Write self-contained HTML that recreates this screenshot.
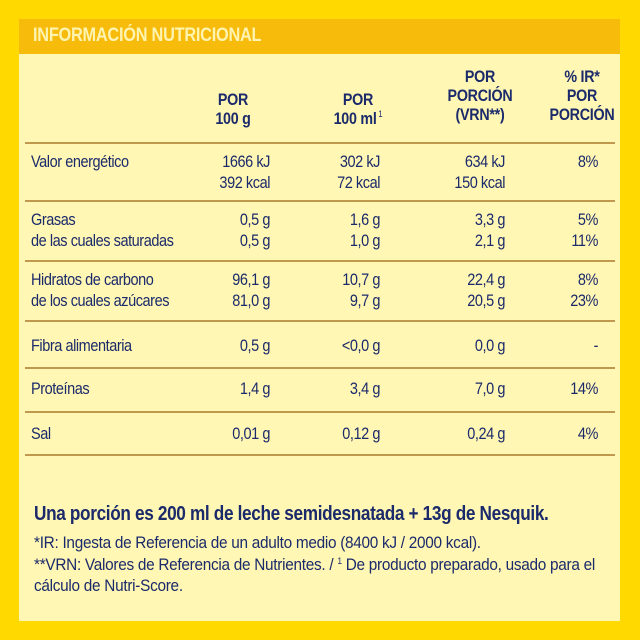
<!DOCTYPE html>
<html><head><meta charset="utf-8"><style>
body{margin:0;width:640px;height:640px;background:#ffd900;position:relative;overflow:hidden;font-family:"Liberation Sans Narrow","Liberation Sans",sans-serif;color:#1b2a6b}
#panel{position:absolute;left:19px;top:19px;width:601px;height:602px;background:#fff7b3}
#hdr{position:absolute;left:19px;top:19px;width:601px;height:35px;background:#f7bc0b}
#hdr span{position:absolute;left:14px;top:6px;font-size:19px;font-weight:bold;color:#fff3b0;letter-spacing:-0.3px;transform:scaleX(0.86);transform-origin:left;white-space:nowrap}
.t{position:absolute;white-space:nowrap;font-size:16.5px;line-height:21px;letter-spacing:-0.5px;transform:scaleX(0.88);transform-origin:left}
.r{text-align:right;transform-origin:right}
.c{text-align:center;font-weight:bold;font-size:17px;line-height:19px;letter-spacing:-0.3px;transform-origin:center;transform:scaleX(0.84)}
.hl{position:absolute;left:25px;width:590px;height:2px;background:#bf9a4e}
</style></head><body>
<div id="panel"></div>
<div id="hdr"><span>INFORMACIÓN NUTRICIONAL</span></div>

<div class="t c" style="left:193px;top:90px;width:80px">POR<br>100 g</div>
<div class="t c" style="left:318px;top:90px;width:80px">POR<br>100 ml<span style="font-size:9px;font-weight:normal;vertical-align:top;line-height:11px"> 1</span></div>
<div class="t c" style="left:430px;top:67px;width:100px">POR<br>PORCIÓN<br>(VRN**)</div>
<div class="t c" style="left:542px;top:67px;width:80px">% IR*<br>POR<br>PORCIÓN</div>

<div class="hl" style="top:142px"></div>
<div class="hl" style="top:200px"></div>
<div class="hl" style="top:260px"></div>
<div class="hl" style="top:320px"></div>
<div class="hl" style="top:367px"></div>
<div class="hl" style="top:411px"></div>
<div class="hl" style="top:454px"></div>

<div class="t" style="left:31px;top:152px">Valor energético</div>
<div class="t r" style="left:170px;top:152px;width:100px">1666 kJ<br>392 kcal</div>
<div class="t r" style="left:280px;top:152px;width:100px">302 kJ<br>72 kcal</div>
<div class="t r" style="left:405px;top:152px;width:100px">634 kJ<br>150 kcal</div>
<div class="t r" style="left:540px;top:152px;width:58px">8%</div>

<div class="t" style="left:31px;top:210px">Grasas<br>de las cuales saturadas</div>
<div class="t r" style="left:170px;top:210px;width:100px">0,5 g<br>0,5 g</div>
<div class="t r" style="left:280px;top:210px;width:100px">1,6 g<br>1,0 g</div>
<div class="t r" style="left:405px;top:210px;width:100px">3,3 g<br>2,1 g</div>
<div class="t r" style="left:540px;top:210px;width:58px">5%<br>11%</div>

<div class="t" style="left:31px;top:270px">Hidratos de carbono<br>de los cuales azúcares</div>
<div class="t r" style="left:170px;top:270px;width:100px">96,1 g<br>81,0 g</div>
<div class="t r" style="left:280px;top:270px;width:100px">10,7 g<br>9,7 g</div>
<div class="t r" style="left:405px;top:270px;width:100px">22,4 g<br>20,5 g</div>
<div class="t r" style="left:540px;top:270px;width:58px">8%<br>23%</div>

<div class="t" style="left:31px;top:336px">Fibra alimentaria</div>
<div class="t r" style="left:170px;top:336px;width:100px">0,5 g</div>
<div class="t r" style="left:280px;top:336px;width:100px">&lt;0,0 g</div>
<div class="t r" style="left:405px;top:336px;width:100px">0,0 g</div>
<div class="t r" style="left:540px;top:336px;width:58px">-</div>

<div class="t" style="left:31px;top:379px">Proteínas</div>
<div class="t r" style="left:170px;top:379px;width:100px">1,4 g</div>
<div class="t r" style="left:280px;top:379px;width:100px">3,4 g</div>
<div class="t r" style="left:405px;top:379px;width:100px">7,0 g</div>
<div class="t r" style="left:540px;top:379px;width:58px">14%</div>

<div class="t" style="left:31px;top:424px">Sal</div>
<div class="t r" style="left:170px;top:424px;width:100px">0,01 g</div>
<div class="t r" style="left:280px;top:424px;width:100px">0,12 g</div>
<div class="t r" style="left:405px;top:424px;width:100px">0,24 g</div>
<div class="t r" style="left:540px;top:424px;width:58px">4%</div>

<div class="t" style="left:34px;top:502px;font-size:20px;line-height:24px;font-weight:bold;letter-spacing:-0.4px;transform:scaleX(0.86)">Una porción es 200 ml de leche semidesnatada + 13g de Nesquik.</div>
<div class="t" style="left:34px;top:533px;font-size:16.5px;line-height:21.5px;letter-spacing:-0.3px;transform:scaleX(0.93)">*IR: Ingesta de Referencia de un adulto medio (8400 kJ / 2000 kcal).<br>**VRN: Valores de Referencia de Nutrientes. / <span style="font-size:9px;vertical-align:top;line-height:12px">1</span> De producto preparado, usado para el<br>cálculo de Nutri-Score.</div>
</body></html>
